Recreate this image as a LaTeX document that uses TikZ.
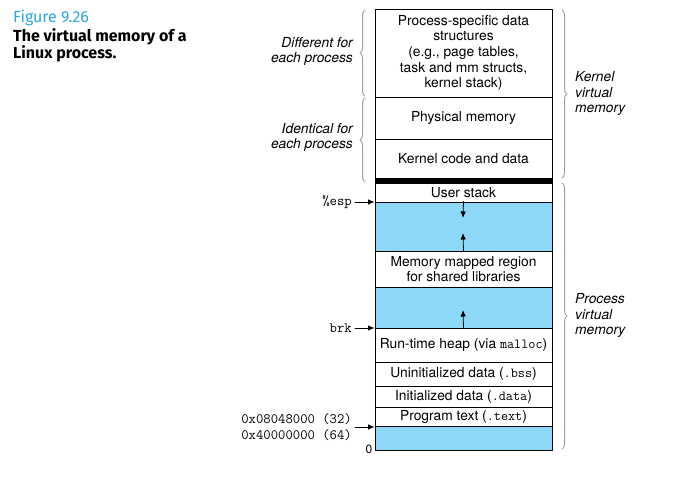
\documentclass[tikz,border=0pt]{standalone}
\usepackage{fontspec}
\setmainfont{TeX Gyre Heros}
\newfontfamily\titlefont{Fira Sans}
\usetikzlibrary{arrows.meta,decorations.pathreplacing}
\definecolor{gapblue}{HTML}{8DD7F7}
\definecolor{figblue}{HTML}{2AA8E0}
\definecolor{bracegray}{HTML}{A0A0A0}
\newcommand\memfont{\fontsize{13.8}{15.6}\selectfont}
\newcommand\addrfont{\fontsize{14.3}{15.6}\selectfont\ttfamily}

\begin{document}
\begin{tikzpicture}[x=1pt,y=-1pt,line cap=round,line join=round,>={Latex[length=6.5pt,width=5.5pt]},
  cell/.style={draw,line width=0.9pt,minimum width=177pt,inner sep=0pt,align=center,font=\memfont},
  gap/.style={cell,fill=gapblue},
  side/.style={font=\memfont\itshape},
  addr/.style={font=\addrfont,anchor=east,align=right,inner sep=0pt},
  caption/.style={anchor=base west,inner sep=0pt,font=\titlefont\fontsize{16}{18}\selectfont},
  brc/.style={decorate,decoration={brace,amplitude=5pt},bracegray,line width=1pt},
  pointer/.style={->,line width=0.8pt}]
		\useasboundingbox (0,0) rectangle (683,497);
		
		% caption
		\node [caption,text=figblue] (fignum) at (13,23) {Figure 9.26};
		\node [caption,font=\titlefont\bfseries\fontsize{16}{18}\selectfont] (figcapa) at (13,41.5) {The virtual memory of a};
		\node [caption,font=\titlefont\bfseries\fontsize{16}{18}\selectfont] (figcapb) at (13,59) {Linux process.};
		
		% memory regions
		\node [cell,minimum height=88pt] (pspec) at (463.5,53) {Process-specific data\\structures\\(e.g., page tables,\\task and mm structs,\\kernel stack)};
		\node [cell,minimum height=42pt] (phys) at (463.5,118) {Physical memory};
		\node [cell,minimum height=39pt] (kcode) at (463.5,158.5) {Kernel code and data};
		\node [cell,fill=black,minimum height=5pt] (bar) at (463.5,180.5) {};
		\node [cell,minimum height=19pt] (ustack) at (463.5,192.5) {User stack};
		\node [gap,minimum height=49pt] (gapa) at (463.5,226.5) {};
		\node [cell,minimum height=36pt] (mmap) at (463.5,269) {Memory mapped region\\for shared libraries};
		\node [gap,minimum height=41pt] (gapb) at (463.5,307.5) {};
		\node [cell,minimum height=34pt] (heap) at (463.5,345) {Run-time heap (via \texttt{malloc})};
		\node [cell,minimum height=24pt] (bss) at (463.5,374) {Uninitialized data (\texttt{.bss})};
		\node [cell,minimum height=21pt] (data) at (463.5,396.5) {Initialized data (\texttt{.data})};
		\node [cell,minimum height=19pt] (ptext) at (463.5,416.5) {Program text (\texttt{.text})};
		\node [gap,minimum height=24pt] (gapc) at (463.5,438) {};
		
		% growth arrows
		\coordinate (downend) at (463,218);
		\coordinate (upend) at (463,233);
		\coordinate (heapend) at (463,310);
		\draw [pointer] (gapa.north) -- (downend);
		\draw [pointer] (gapa.south) -- (upend);
		\draw [pointer] (gapb.south) -- (heapend);
		
		% pointers on the left
		\node [addr] (esp) at (352,202) {\%esp};
		\node [addr] (brk) at (352,328) {brk};
		\node [addr] (start) at (352,427) {0x08048000 (32)\\0x40000000 (64)};
		\node [inner sep=0pt,font=\fontsize{12}{14}\selectfont] (zero) at (369,449) {0};
		\draw [pointer] (esp.east) ++(3,0) -- (esp.east -| gapa.west);
		\draw [pointer] (brk.east) ++(3,0) -- (brk.east -| heap.west);
		\draw [pointer] (start.east) ++(3,0) -- (start.east -| gapc.west);
		
		% braces
		\draw [brc] (365,96) -- (365,10);
		\draw [brc] (365,182) -- (365,98);
		\draw [brc] (562,10) -- (562,178);
		\draw [brc] (562,183) -- (562,449);
		
		\node [side,anchor=east,align=right,inner sep=0pt] (diff) at (353,51.5) {Different for\\each process};
		\node [side,anchor=east,align=right,inner sep=0pt] (ident) at (353,137.5) {Identical for\\each process};
		\node [side,anchor=west,align=left,inner sep=0pt] (kvm) at (575,93.5) {Kernel\\virtual\\memory};
		\node [side,anchor=west,align=left,inner sep=0pt] (pvm) at (575,315.5) {Process\\virtual\\memory};
	\end{tikzpicture}
\end{document}
